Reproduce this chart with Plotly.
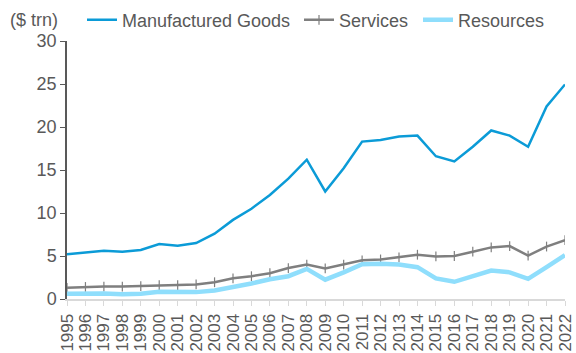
import plotly.graph_objects as go

years = list(range(1995, 2023))
manufactured = [5.2, 5.4, 5.6, 5.5, 5.7, 6.4, 6.2, 6.5, 7.6, 9.2, 10.5, 12.1, 14.0, 16.2,
                12.5, 15.2, 18.3, 18.5, 18.9, 19.0, 16.6, 16.0, 17.7, 19.6, 19.0, 17.7, 22.4, 24.95]
services = [1.3, 1.4, 1.45, 1.45, 1.5, 1.6, 1.6, 1.7, 1.95, 2.4, 2.65, 3.0, 3.6, 4.0,
            3.55, 4.0, 4.5, 4.6, 4.85, 5.15, 4.95, 5.0, 5.5, 6.0, 6.15, 5.05, 6.1, 6.85]
resources = [0.6, 0.65, 0.65, 0.55, 0.6, 0.85, 0.8, 0.8, 1.0, 1.35, 1.8, 2.3, 2.65, 3.5,
             2.25, 3.1, 4.05, 4.1, 4.0, 3.7, 2.4, 2.0, 2.6, 3.3, 3.1, 2.35, 3.7, 5.1]

FONT = "Liberation Sans, Arial, sans-serif"
TEXT = "#595959"
LEGEND_Y = 1.081

fig = go.Figure()
fig.add_trace(go.Scatter(x=years, y=manufactured, name="Manufactured Goods",
                         mode="lines", line=dict(color="#0b9bd7", width=2.5),
                         legend="legend"))
fig.add_trace(go.Scatter(x=years, y=services, name="Services",
                         mode="lines+markers", line=dict(color="#7f7f7f", width=2.5),
                         marker=dict(symbol="line-ns", size=7,
                                     line=dict(color="#7f7f7f", width=1.2)),
                         legend="legend2"))
fig.add_trace(go.Scatter(x=years, y=resources, name="Resources",
                         mode="lines", line=dict(color="#8fdefc", width=4.5),
                         legend="legend3"))


def legend_box(x):
    return dict(orientation="h", x=x, xanchor="left", y=LEGEND_Y, yanchor="middle",
                font=dict(size=18, color=TEXT), itemwidth=30,
                bgcolor="rgba(0,0,0,0)")


PLOT_W = 576 - 67 - 11


def px_to_paper(px):
    return (px - 67) / PLOT_W


fig.update_layout(
    width=576, height=353,
    margin=dict(l=67, r=11, t=41, b=54, autoexpand=False),
    paper_bgcolor="white", plot_bgcolor="white",
    font=dict(family=FONT, size=18, color=TEXT),
    showlegend=True,
    legend=legend_box(px_to_paper(82)),
    legend2=legend_box(px_to_paper(299)),
    legend3=legend_box(px_to_paper(418)),
    xaxis=dict(range=[1995, 2022], tickmode="array", tickvals=years,
               ticktext=[str(y) for y in years], tickangle=-90,
               tickfont=dict(size=17, color=TEXT), ticklabeloverflow="allow",
               ticklabelstandoff=1,
               showline=True, linecolor="#d9d9d9", linewidth=2,
               ticks="outside", ticklen=5, tickcolor="#d9d9d9",
               showgrid=False, zeroline=False, automargin=False),
    yaxis=dict(range=[0, 30], tickvals=[0, 5, 10, 15, 20, 25, 30],
               tickfont=dict(size=18, color=TEXT),
               showline=True, linecolor="#595959", linewidth=1.5,
               ticks="outside", ticklen=5, tickcolor="#595959",
               showgrid=False, zeroline=False, automargin=False),
)
fig.add_annotation(text="($ trn)", xref="paper", yref="paper", x=px_to_paper(8),
                   y=LEGEND_Y, xanchor="left", yanchor="middle", showarrow=False,
                   font=dict(family=FONT, size=18, color=TEXT))

fig.write_html("out.html")
